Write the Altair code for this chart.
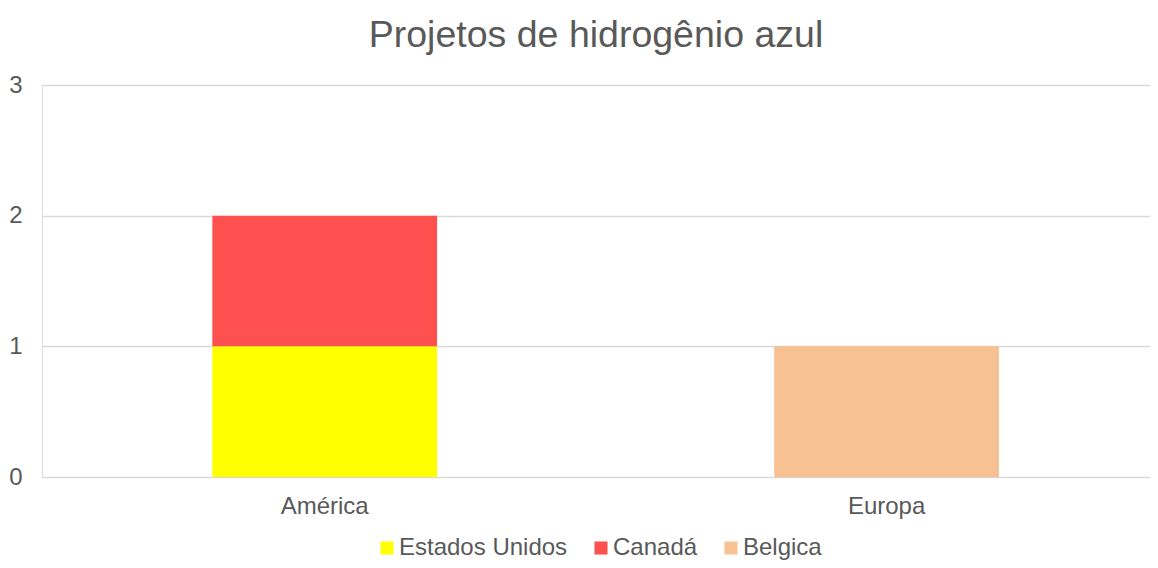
import altair as alt
import pandas as pd

regions = ["América", "América", "Europa"]
countries = ["Estados Unidos", "Canadá", "Belgica"]
values = [1, 1, 1]
order = [0, 1, 2]
colors = ["#FFFF00", "#FF5050", "#F8C191"]

df = pd.DataFrame({"regiao": regions, "pais": countries, "valor": values, "ordem": order})

FONT = "Liberation Sans"
GRAY = "#595959"

chart = alt.Chart(df).mark_bar().encode(
    x=alt.X("regiao:N", title=None,
            scale=alt.Scale(domain=["América", "Europa"], paddingInner=0.6, paddingOuter=0.286, align=0.53),
            axis=alt.Axis(labelAngle=0, labelFontSize=24, labelColor=GRAY, labelFont=FONT,
                          ticks=False, domain=False, labelPadding=17)),
    y=alt.Y("valor:Q", title=None, stack="zero",
            scale=alt.Scale(domain=[0, 3], nice=False),
            axis=alt.Axis(values=[0, 1, 2, 3], format="d", labelFontSize=24, labelColor=GRAY,
                          labelFont=FONT, ticks=False, domain=False, labelPadding=20,
                          gridColor="#D9D9D9", gridWidth=1.5)),
    color=alt.Color("pais:N", scale=alt.Scale(domain=countries, range=colors),
                    legend=alt.Legend(title=None, orient="none", direction="horizontal",
                                      legendX=333, legendY=451, symbolType="square",
                                      symbolSize=170, symbolStrokeWidth=0, labelFontSize=24,
                                      labelColor=GRAY, labelFont=FONT, columnPadding=21,
                                      labelOffset=0, labelLimit=400)),
    order=alt.Order("ordem:Q"),
).properties(
    width=1108,
    height=392,
    title=alt.TitleParams("Projetos de hidrogênio azul", fontSize=37.5, font=FONT, color=GRAY,
                          fontWeight="normal", anchor="middle", offset=19),
    autosize=alt.AutoSizeParams(type="none"),
    padding={"left": 34, "top": 77, "right": 0, "bottom": 83},
).configure_view(stroke=None).configure(background="white")

chart.save("out.html", embed_options={"renderer": "svg", "actions": False})
